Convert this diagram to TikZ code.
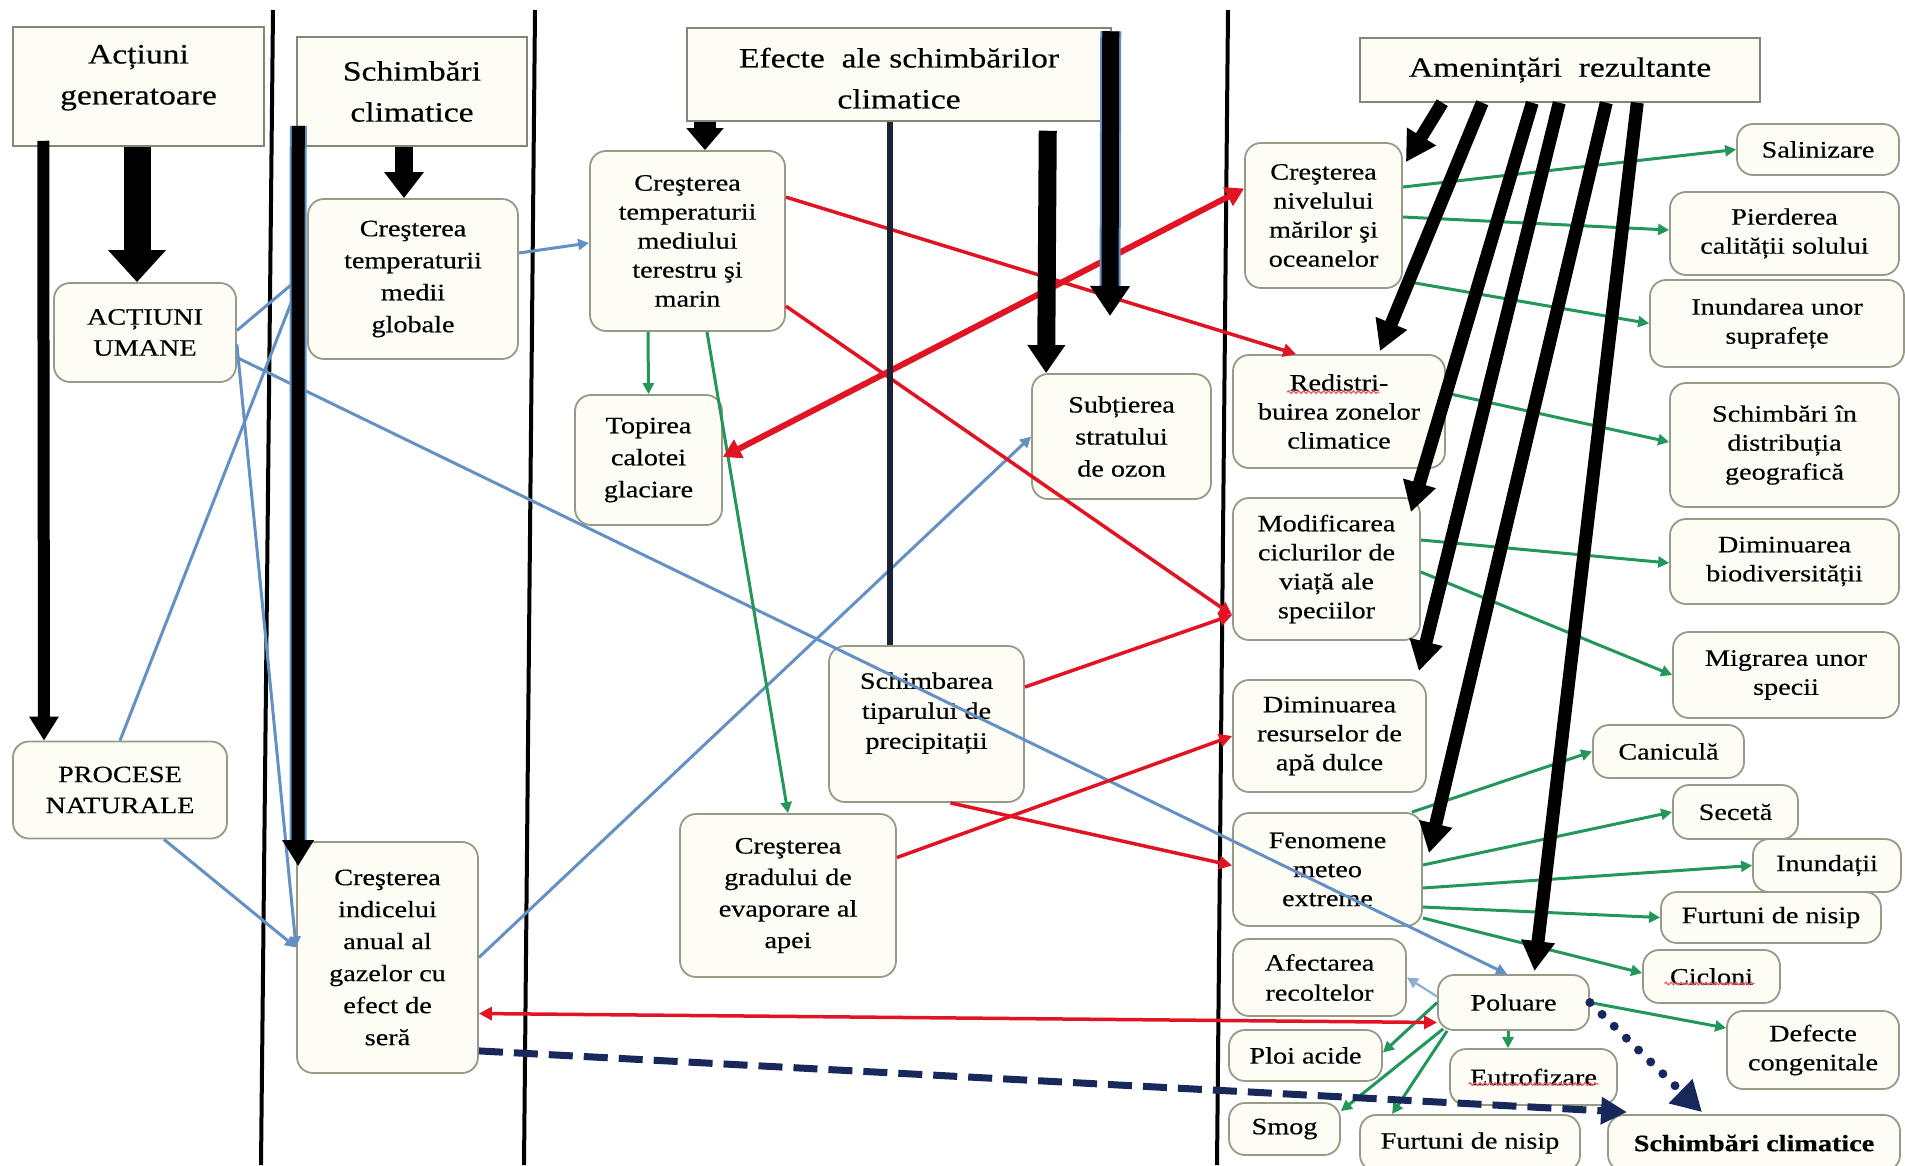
\documentclass[tikz,border=0pt]{standalone}
\usepackage{fontspec}
\setmainfont[FakeStretch=1.2,FakeBold=0.4]{Liberation Serif}
\usetikzlibrary{arrows.meta,decorations.pathmorphing}

\definecolor{boxfill}{RGB}{253,253,246}
\definecolor{boxline}{RGB}{150,155,135}
\definecolor{headline}{RGB}{130,135,120}
\definecolor{steel}{RGB}{100,145,195}
\definecolor{palesteel}{RGB}{140,175,215}
\definecolor{leaf}{RGB}{35,150,90}
\definecolor{alarm}{RGB}{225,20,35}
\definecolor{navy}{RGB}{25,40,90}
\definecolor{inkline}{RGB}{27,34,54}

\newcommand{\boxtext}{\fontsize{23.5}{29}\selectfont}
\newcommand{\headtext}{\fontsize{28}{41}\selectfont}

\begin{document}
\begin{tikzpicture}[x=1pt,y=-1pt,
  box/.style={draw=boxline, fill=boxfill, rounded corners=16pt, line width=1.8pt,
    align=center, inner sep=1pt, font=\boxtext},
  headbox/.style={draw=headline, fill=boxfill, line width=1.5pt,
    align=center, inner sep=1pt, font=\headtext},
  divider/.style={draw=black, line width=4pt},
  bigarrow/.style={draw=black, line width=13pt, -{Triangle[width=32pt,length=30pt]}},
  blueline/.style={draw=steel, line width=3pt, -{Triangle[width=11pt,length=11pt]}},
  greenline/.style={draw=leaf, line width=3pt, -{Triangle[width=11pt,length=11pt]}},
  redline/.style={draw=alarm, line width=3.5pt, -{Triangle[width=13pt,length=13pt]}},
  squiggle/.style={draw=alarm!70, line width=1.2pt, decorate,
    decoration={snake, amplitude=1.3pt, segment length=5pt}}]

  \fill[white] (0,0) rectangle (1905,1165);
  \useasboundingbox (0,0) rectangle (1905,1165);

  % column dividers
  \draw[divider] (273,10) -- (261,1165);
  \draw[divider] (535,10) -- (524,1165);
  \draw[divider] (1228,10) -- (1217,1165);

  % column headers
  \node[headbox, minimum width=251pt, minimum height=119pt] (hGen) at (138.5,86.5)
    {\raisebox{4.5pt}[0pt][0pt]{\begin{tabular}{@{}c@{}}Acțiuni\\generatoare\end{tabular}}};
  \node[headbox, minimum width=230pt, minimum height=109pt] (hClim) at (412,91.5) {Schimbări\\climatice};
  \node[headbox, minimum width=424pt, minimum height=93pt] (hEfec) at (899,74.5)
    {\raisebox{-11.5pt}[0pt][0pt]{\begin{tabular}{@{}c@{}}Efecte~ ale schimbărilor\\climatice\end{tabular}}};
  \node[headbox, minimum width=400pt, minimum height=64pt] (hAmen) at (1560,70) {Amenințări~ rezultante};

  % generating actions
  \node[box, minimum width=182pt, minimum height=99pt, font=\fontsize{23.5}{31}\selectfont] (umane) at (145,332.5) {ACȚIUNI\\UMANE};
  \node[box, minimum width=214pt, minimum height=97pt, font=\fontsize{23.5}{31}\selectfont] (procese) at (120,790) {PROCESE\\NATURALE};

  % climate change
  \node[box, minimum width=210pt, minimum height=160pt, font=\fontsize{23.5}{32}\selectfont] (tempGlob) at (413,279) {Creşterea\\temperaturii\\medii\\globale};
  \node[box, minimum width=181pt, minimum height=231pt, font=\fontsize{23.5}{32}\selectfont] (gaze) at (387.5,957.5) {Creşterea\\indicelui\\anual al\\gazelor cu\\efect de\\seră};

  % effects
  \node[box, minimum width=195pt, minimum height=180pt] (tempMed) at (687.5,241) {Creşterea\\temperaturii\\mediului\\terestru şi\\marin};
  \node[box, minimum width=147pt, minimum height=130pt, font=\fontsize{23.5}{32}\selectfont] (topire) at (648.5,460) {Topirea\\calotei\\glaciare};
  \node[box, minimum width=179pt, minimum height=125pt, font=\fontsize{23.5}{32}\selectfont] (ozon) at (1121.5,436.5) {Subțierea\\stratului\\de ozon};
  \node[box, minimum width=195pt, minimum height=156pt, font=\fontsize{23.5}{30}\selectfont] (precip) at (926.5,724)
    {\raisebox{5pt}[0pt][0pt]{\begin{tabular}{@{}c@{}}Schimbarea\\tiparului de\\precipitații\end{tabular}}};
  \node[box, minimum width=216pt, minimum height=163pt, font=\fontsize{23.5}{31.5}\selectfont] (evapor) at (788,895.5) {Creşterea\\gradului de\\evaporare al\\apei};

  % resulting threats
  \node[box, minimum width=157pt, minimum height=145pt] (nivel) at (1323.5,215.5) {Creşterea\\nivelului\\mărilor şi\\oceanelor};
  \node[box, minimum width=212pt, minimum height=113pt] (redist) at (1339,411.5) {Redistri-\\buirea zonelor\\climatice};
  \node[box, minimum width=187pt, minimum height=142pt] (modif) at (1326.5,569) {Modificarea\\ciclurilor de\\viață ale\\speciilor};
  \node[box, minimum width=193pt, minimum height=112pt] (apa) at (1329.5,736) {Diminuarea\\resurselor de\\apă dulce};
  \node[box, minimum width=189pt, minimum height=113pt] (fenom) at (1327.5,869.5) {Fenomene\\meteo\\extreme};
  \node[box, minimum width=173pt, minimum height=77pt, font=\fontsize{23.5}{30}\selectfont] (recolte) at (1319.5,977.5) {Afectarea\\recoltelor};
  \node[box, minimum width=153pt, minimum height=51pt] (ploi) at (1305.5,1055.5) {Ploi acide};
  \node[box, minimum width=111pt, minimum height=52pt] (smog) at (1284.5,1129) {Smog};
  \node[box, minimum width=220pt, minimum height=56pt] (nisipJos) at (1470,1143) {Furtuni de nisip};
  \node[box, minimum width=151pt, minimum height=55pt] (poluare) at (1513.5,1002.5) {Poluare};
  \node[box, minimum width=167pt, minimum height=56pt] (eutrof) at (1533.5,1077) {Eutrofizare};
  \node[box, minimum width=292pt, minimum height=56pt] (schClim) at (1754,1143) {\bfseries Schimbări climatice};

  \node[box, minimum width=162pt, minimum height=51pt] (salin) at (1818,149.5) {Salinizare};
  \node[box, minimum width=229pt, minimum height=83pt] (pierd) at (1784.5,233.5) {Pierderea\\calității solului};
  \node[box, minimum width=254pt, minimum height=87pt] (inund) at (1777,323.5) {Inundarea unor\\suprafețe};
  \node[box, minimum width=229pt, minimum height=124pt] (distrib) at (1784.5,445) {Schimbări în\\distribuția\\geografică};
  \node[box, minimum width=229pt, minimum height=85pt] (biodiv) at (1784.5,561.5) {Diminuarea\\biodiversității};
  \node[box, minimum width=226pt, minimum height=86pt] (migr) at (1786,675) {Migrarea unor\\specii};
  \node[box, minimum width=151pt, minimum height=53pt] (canic) at (1668.5,751.5) {Caniculă};
  \node[box, minimum width=125pt, minimum height=54pt] (seceta) at (1735.5,812) {Secetă};
  \node[box, minimum width=148pt, minimum height=53pt] (inundatii) at (1827,865.5) {Inundații};
  \node[box, minimum width=220pt, minimum height=51pt] (nisip) at (1771,917.5) {Furtuni de nisip};
  \node[box, minimum width=137pt, minimum height=53pt] (cicloni) at (1711.5,976.5) {Cicloni};
  \node[box, minimum width=172pt, minimum height=78pt] (defecte) at (1813,1050) {Defecte\\congenitale};

  % spell-check marks
  \draw[squiggle] ([xshift=-52pt,yshift=-38pt]redist.north) -- ([xshift=41pt,yshift=-38pt]redist.north);
  \draw[squiggle] ([xshift=-47pt,yshift=-7pt]cicloni.center) -- ([xshift=43pt,yshift=-7pt]cicloni.center);
  \draw[squiggle] ([xshift=-65pt,yshift=-7pt]eutrof.center) -- ([xshift=65pt,yshift=-7pt]eutrof.center);

  \coordinate (efTip) at (1110,316);

  % blue links
  \draw[blueline] ([yshift=26pt]tempGlob.east) -- ([yshift=-2pt]tempMed.west);
  \draw[draw=steel, line width=3pt] ([yshift=2pt]umane.east) -- ([xshift=-9pt]tempGlob.west);
  \draw[draw=steel, line width=3pt] (procese.north) -- ([xshift=-9pt,yshift=-6pt]tempGlob.west);
  \draw[blueline] ([yshift=-25pt]umane.east) -- ([xshift=-6.5pt]poluare.north);
  \draw[blueline] ([yshift=-12pt]umane.east) -- ([yshift=10pt]gaze.west);
  \draw[blueline] ([xshift=44pt]procese.south) -- ([yshift=10pt]gaze.west);
  \draw[blueline] (gaze.east) -- (ozon.west);
  \draw[blueline, draw=palesteel, line width=2.2pt] ([yshift=6pt]poluare.west) -- (recolte.east);

  % green links
  \draw[greenline] ([xshift=-39.5pt]tempMed.south) -- (topire.north);
  \draw[greenline] ([xshift=19.5pt]tempMed.south) -- (evapor.north);
  \draw[greenline] ([yshift=28.5pt]nivel.east) -- (salin.west);
  \draw[greenline] ([yshift=-1.5pt]nivel.east) -- ([yshift=3.5pt]pierd.west);
  \draw[greenline] ([yshift=8pt]nivel.south east) -- (inund.west);
  \draw[greenline] ([yshift=18.5pt]redist.east) -- ([yshift=3pt]distrib.west);
  \draw[greenline] ([yshift=29pt]modif.east) -- ([yshift=-1.5pt]biodiv.west);
  \draw[greenline] ([yshift=-3pt]modif.east) -- (migr.west);
  \draw[greenline] ([xshift=-11pt]fenom.north east) -- (canic.west);
  \draw[greenline] ([yshift=4.5pt]fenom.east) -- (seceta.west);
  \draw[greenline] ([yshift=-18.5pt]fenom.east) -- (inundatii.west);
  \draw[greenline] ([yshift=-37.5pt]fenom.east) -- (nisip.west);
  \draw[greenline] ([yshift=-48.5pt]fenom.east) -- ([yshift=3.5pt]cicloni.west);
  \draw[greenline] (poluare.east) -- ([yshift=22pt]defecte.west);
  \draw[greenline] (poluare.west) -- ([yshift=3pt]ploi.east);
  \draw[greenline] ([xshift=6pt,yshift=2pt]poluare.south west) -- ([yshift=-9pt]smog.north east);
  \draw[greenline] ([xshift=10pt]poluare.south west) -- ([xshift=33pt]nisipJos.north west);
  \draw[greenline] ([xshift=-5.5pt]poluare.south) -- ([xshift=-25.5pt]eutrof.north);

  % red links
  \draw[redline] ([yshift=-47pt]tempMed.north east) -- ([xshift=64pt]redist.north west);
  \draw[redline] ([yshift=-156pt]tempMed.north east) -- ([yshift=-46pt]modif.west);
  \draw[redline] ([yshift=37pt]precip.east) -- ([yshift=-46pt]modif.west);
  \draw[redline] ([yshift=38pt]evapor.east) -- (apa.west);
  \draw[redline] ([xshift=24pt]precip.south) -- ([yshift=4pt]fenom.west);
  \draw[redline, line width=6pt, {Triangle[width=20pt,length=18pt]}-{Triangle[width=20pt,length=18pt]}]
    ([yshift=3pt]topire.east) -- ([yshift=27pt]nivel.west);
  \draw[redline, line width=3.5pt, {Triangle[width=13pt,length=13pt]}-{Triangle[width=13pt,length=13pt]}]
    ([yshift=-56pt]gaze.east) -- ([yshift=-20pt]poluare.west);

  % navy links
  \draw[draw=navy, line width=7pt, dash pattern=on 24pt off 11pt, -{Triangle[width=26pt,length=26pt]}]
    ([yshift=23pt]gaze.south east) -- ([xshift=20pt,yshift=2pt]schClim.north west);
  \draw[draw=navy, line width=9pt, line cap=round, dash pattern=on 0pt off 17pt, -{Triangle[width=32pt,length=30pt]}]
    (poluare.east) -- ([xshift=-52pt,yshift=2pt]schClim.north);
  \draw[draw=inkline, line width=6pt] ([xshift=-9pt]hEfec.south) -- ([xshift=-36.5pt]precip.north);

  % heavy arrows
  \draw[bigarrow, line width=27pt, -{Triangle[width=56pt,length=32pt]}] ([xshift=-1.5pt]hGen.south) -- ([xshift=-8pt]umane.north);
  \draw[bigarrow, line width=18pt, -{Triangle[width=38pt,length=26pt]}] ([xshift=-8pt]hClim.south) -- ([xshift=-9pt]tempGlob.north);
  \draw[bigarrow, line width=12pt, -{Triangle[width=28pt,length=24pt]}] ([xshift=31pt,yshift=6pt]hGen.south west) -- ([xshift=-76pt]procese.north);
  \draw[bigarrow, line width=13pt, -{Triangle[width=30pt,length=26pt]},
    preaction={draw=steel, line width=17pt, -, shorten >=26pt}]
    ([xshift=2pt,yshift=21pt]hClim.south west) -- ([xshift=2pt,yshift=-25pt]gaze.north west);
  \draw[bigarrow, line width=22pt, -{Triangle[width=36pt,length=22pt]}] ([xshift=17.5pt]hEfec.south west -| tempMed.north) -- ([xshift=17.5pt]tempMed.north);
  \draw[bigarrow, line width=18pt, -{Triangle[width=36pt,length=28pt]}] ([xshift=-64pt,yshift=-9pt]hEfec.south east) -- ([xshift=15pt]ozon.north west);
  \draw[bigarrow, line width=17pt, -{Triangle[width=38pt,length=30pt]},
    preaction={draw=steel, line width=21pt, -, shorten >=30pt}]
    ([xshift=-1pt,yshift=-4pt]hEfec.north east) -- (efTip);

  \draw[bigarrow] ([xshift=83pt]hAmen.south west) -- ([xshift=3pt,yshift=-20pt]nivel.north east);
  \draw[bigarrow] ([xshift=123pt]hAmen.south west) -- ([xshift=41pt,yshift=3pt]redist.north);
  \draw[bigarrow] ([xshift=173pt]hAmen.south west) -- ([xshift=-10pt,yshift=-15pt]modif.north east);
  \draw[bigarrow] ([xshift=200pt]hAmen.south west) -- ([xshift=-8pt,yshift=8pt]apa.north east);
  \draw[bigarrow] ([xshift=247pt]hAmen.south west) -- ([xshift=6pt,yshift=-41pt]fenom.north east);
  \draw[bigarrow] ([xshift=278pt]hAmen.south west) -- ([xshift=21pt,yshift=3pt]poluare.north);
\end{tikzpicture}
\end{document}
